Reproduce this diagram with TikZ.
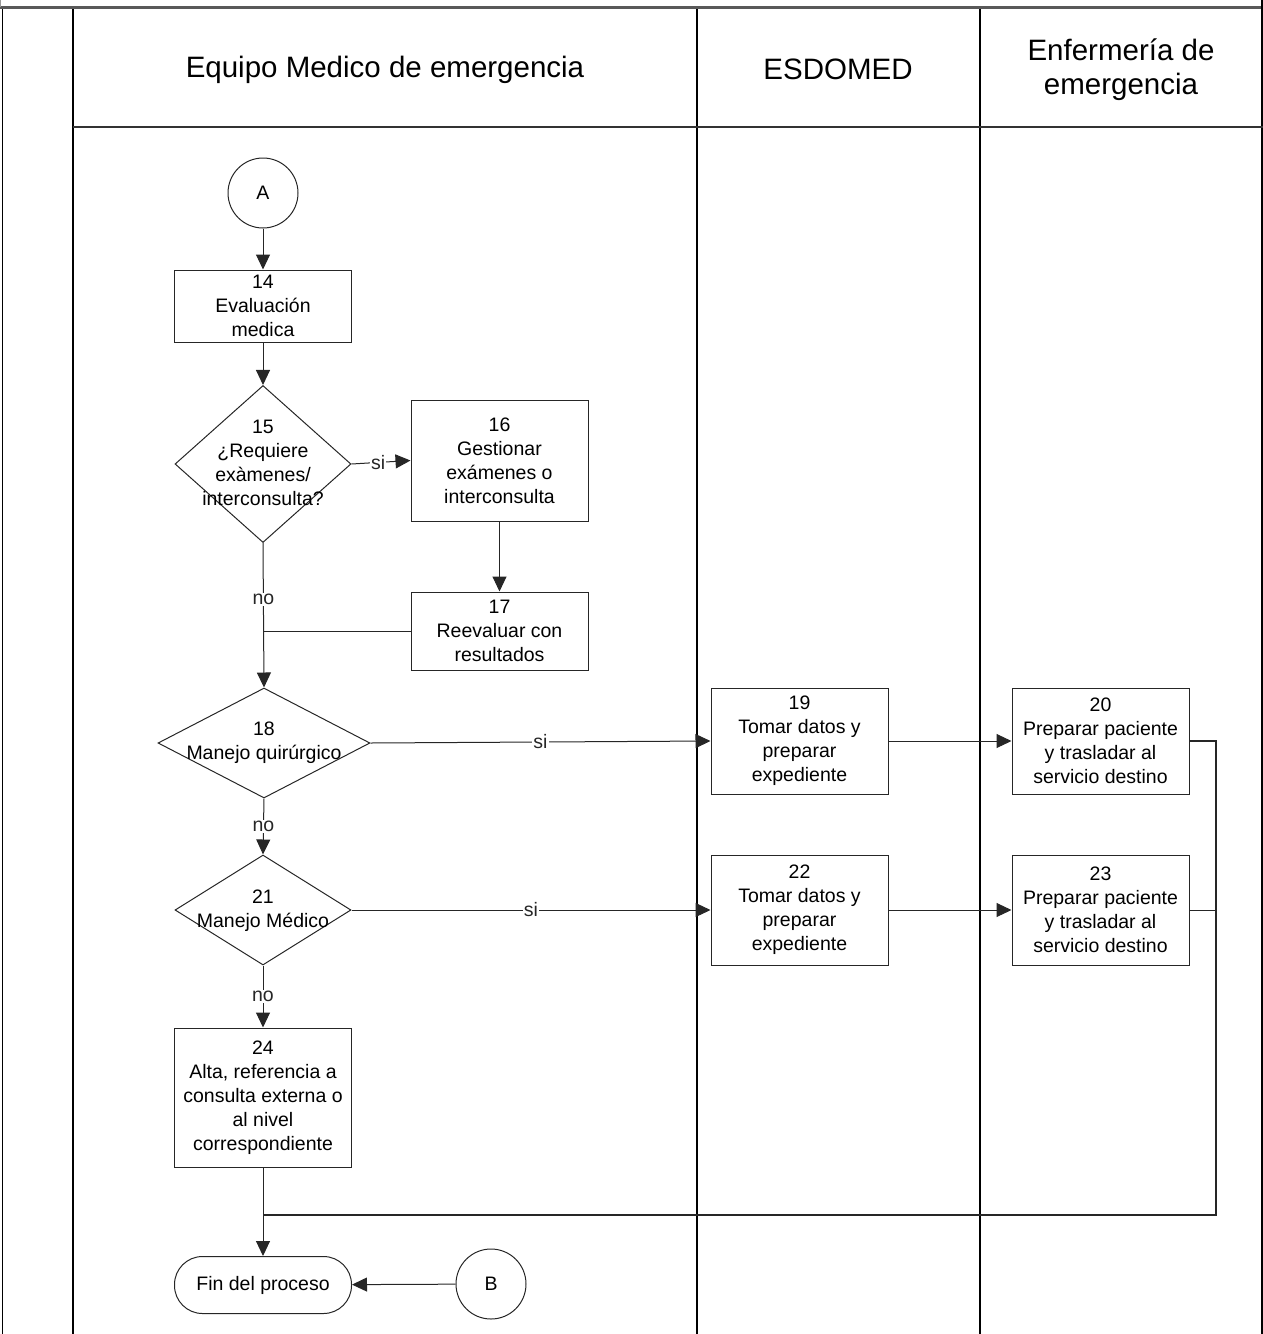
\documentclass[tikz,border=0pt]{standalone}
\usepackage{fontspec}
\setmainfont{Liberation Sans}
\usetikzlibrary{shapes.geometric,arrows.meta}
\begin{document}
\begin{tikzpicture}[x=1pt,y=-1pt,
  every node/.style={font=\fontsize{19.5}{24}\selectfont},
  frame/.style={line width=1.6pt,black},
  proc/.style={draw=black!85,line width=1pt,rectangle,minimum width=177pt,inner sep=0pt,align=center},
  dec/.style={draw=black!85,line width=1pt,diamond,inner sep=0pt},
  dectext/.style={align=center,inner sep=0pt},
  conn/.style={draw=black!85,line width=1pt,circle,minimum size=70pt,inner sep=0pt},
  term/.style={draw=black!85,line width=1pt,rectangle,rounded corners=28pt,minimum width=177pt,minimum height=57pt,inner sep=0pt},
  hdr/.style={font=\fontsize{29.5}{34}\selectfont,align=center},
  flow/.style={line width=1pt,black!85},
  arr/.style={flow,-{Triangle[length=15pt,width=14pt]}},
  lbl/.style={fill=white,inner sep=1pt}
]
\useasboundingbox (0,0) rectangle (1263,1334);
% frame
\draw[line width=3pt,black!65] (0,7.5) -- (1263,7.5);
\draw[line width=1pt,black!40] (0.5,0) -- (0.5,7);
\draw[frame] (2.5,9) -- (2.5,1334);
\draw[frame] (73,9) -- (73,1334);
\draw[frame] (697,9) -- (697,1334);
\draw[frame] (980,9) -- (980,1334);
\draw[frame] (1262,0) -- (1262,1334);
\draw[line width=1.4pt,black!80] (73,127) -- (1263,127);
% headers
\node[hdr] (h1) at (385,70) {Equipo Medico de emergencia};
\node[hdr] (h2) at (838,69) {ESDOMED};
\node[hdr] (h3) at (1121,70) {Enfermería de\\emergencia};
% nodes
\node[conn] (A) at (263,193) {A};
\node[proc,minimum height=72pt] (b14) at (263,306) {14\\Evaluación\\medica};
\node[dec,minimum width=176pt,minimum height=157pt] (d15) at (263,464) {};
\node[dectext] (d15t) at (263,463) {15\\¿Requiere\\exàmenes/\\interconsulta?};
\node[proc,minimum height=121pt] (b16) at (499.5,460.5) {16\\Gestionar\\exámenes o\\interconsulta};
\node[proc,minimum height=78pt] (b17) at (499.5,631) {17\\Reevaluar con\\resultados};
\node[dec,minimum width=212pt,minimum height=110pt] (d18) at (264,743) {};
\node[dectext] (d18t) at (264,743) {18\\Manejo quirúrgico};
\node[proc,minimum height=106pt] (b19) at (799.5,741) {19\\Tomar datos y\\preparar\\expediente};
\node[proc,minimum height=106pt] (b20) at (1100.5,741) {20\\Preparar paciente\\y trasladar al\\servicio destino};
\node[dec,minimum width=176pt,minimum height=110pt] (d21) at (263,910) {};
\node[dectext] (d21t) at (263,911) {21\\Manejo Médico};
\node[proc,minimum height=110pt] (b22) at (799.5,910) {22\\Tomar datos y\\preparar\\expediente};
\node[proc,minimum height=110pt] (b23) at (1100.5,910) {23\\Preparar paciente\\y trasladar al\\servicio destino};
\node[proc,minimum height=139pt] (b24) at (263,1097.5) {24\\Alta, referencia a\\consulta externa o\\al nivel\\correspondiente};
\node[term] (fin) at (263,1285) {Fin del proceso};
\node[conn] (B) at (491,1284) {B};
\coordinate (j17) at (263,631);
\coordinate (r1) at (1216,1215);
\coordinate (j2) at (263,1215);
% connectors
\draw[arr] (A) -- (b14);
\draw[arr] (b14) -- (d15);
\draw[arr] (d15.east) -- node[lbl,pos=0.45] (s15) {si} (b16.west);
\draw[arr] (b16) -- (b17);
\draw[arr] (d15.south) -- node[lbl,pos=0.39] (n15) {no} (d18.north);
\draw[flow] (b17.west) -- (j17);
\draw[arr] (d18.east) -- node[lbl] (s18) {si} (b19.west);
\draw[arr] (b19) -- (b20);
\draw[arr] (d18.south) -- node[lbl] (n18) {no} (d21.north);
\draw[arr] (d21.east) -- node[lbl] (s21) {si} (b22.west);
\draw[arr] (b22) -- (b23);
\draw[arr] (d21.south) -- node[lbl] (n21) {no} (b24.north);
\draw[arr] (b24.south) -- (fin.north);
\draw[flow,line width=1.3pt] (b20.east) -| (r1) -- (j2);
\draw[flow] (b23.east) -- (b23.east -| r1);
\draw[arr] (B) -- (fin);
\end{tikzpicture}
\end{document}
